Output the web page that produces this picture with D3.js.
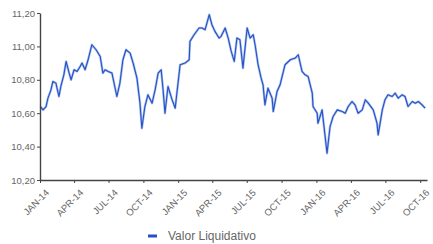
<!DOCTYPE html>
<html>
<head>
<meta charset="utf-8">
<script src="https://cdn.jsdelivr.net/npm/d3@7"></script>
<style>
  body { margin: 0; background: #fff; }
  svg { display: block; font-family: "Liberation Sans", Arial, sans-serif; }
</style>
</head>
<body>
<svg id="chart" width="433" height="244"></svg>
<script>
"use strict";

// Valor liquidativo
const dates = [
    "2014-01-02", "2014-01-09", "2014-01-17", "2014-01-22", "2014-01-30", "2014-02-04", "2014-02-12", "2014-02-20",
    "2014-02-25", "2014-03-05", "2014-03-11", "2014-03-19", "2014-03-24", "2014-04-01", "2014-04-09", "2014-04-17",
    "2014-04-22", "2014-04-30", "2014-05-08", "2014-05-18", "2014-05-29", "2014-06-09", "2014-06-16", "2014-06-22",
    "2014-06-30", "2014-07-10", "2014-07-23", "2014-07-31", "2014-08-08", "2014-08-16", "2014-08-27", "2014-09-04",
    "2014-09-14", "2014-09-22", "2014-09-27", "2014-10-05", "2014-10-13", "2014-10-24", "2014-11-01", "2014-11-09",
    "2014-11-17", "2014-11-22", "2014-11-27", "2014-12-05", "2014-12-16", "2014-12-24", "2014-12-29", "2015-01-06",
    "2015-01-19", "2015-01-30", "2015-02-01", "2015-02-12", "2015-02-25", "2015-03-05", "2015-03-13", "2015-03-24",
    "2015-03-31", "2015-04-08", "2015-04-19", "2015-04-24", "2015-05-05", "2015-05-13", "2015-05-21", "2015-05-29",
    "2015-06-05", "2015-06-13", "2015-06-21", "2015-07-02", "2015-07-10", "2015-07-18", "2015-07-23", "2015-07-31",
    "2015-08-08", "2015-08-13", "2015-08-18", "2015-08-26", "2015-09-06", "2015-09-09", "2015-09-19", "2015-09-27",
    "2015-10-10", "2015-10-24", "2015-11-06", "2015-11-14", "2015-11-24", "2015-12-02", "2015-12-10", "2015-12-21",
    "2015-12-23", "2016-01-03", "2016-01-05", "2016-01-16", "2016-01-21", "2016-01-29", "2016-02-06", "2016-02-14",
    "2016-02-25", "2016-03-09", "2016-03-17", "2016-03-25", "2016-04-04", "2016-04-12", "2016-04-20", "2016-05-01",
    "2016-05-09", "2016-05-17", "2016-05-30", "2016-06-09", "2016-06-12", "2016-06-23", "2016-06-30", "2016-07-08",
    "2016-07-19", "2016-07-27", "2016-08-04", "2016-08-14", "2016-08-22", "2016-08-30", "2016-09-10", "2016-09-18",
    "2016-09-26", "2016-10-06", "2016-10-14"
];
const values = [
    10.64, 10.62, 10.64, 10.69, 10.74, 10.79, 10.78, 10.70,
    10.76, 10.83, 10.91, 10.84, 10.80, 10.86, 10.85, 10.88,
    10.90, 10.86, 10.92, 11.01, 10.98, 10.94, 10.84, 10.86,
    10.85, 10.84, 10.70, 10.78, 10.92, 10.98, 10.96, 10.90,
    10.81, 10.66, 10.51, 10.64, 10.71, 10.66, 10.74, 10.84,
    10.86, 10.74, 10.60, 10.76, 10.68, 10.63, 10.73, 10.89,
    10.90, 10.92, 11.03, 11.07, 11.11, 11.11, 11.10, 11.19,
    11.13, 11.09, 11.05, 11.06, 11.11, 11.05, 10.97, 10.91,
    11.05, 11.04, 10.87, 11.11, 11.05, 11.07, 11.01, 10.89,
    10.81, 10.77, 10.65, 10.75, 10.69, 10.61, 10.73, 10.77,
    10.89, 10.92, 10.93, 10.95, 10.85, 10.83, 10.82, 10.72,
    10.64, 10.60, 10.54, 10.62, 10.52, 10.36, 10.52, 10.58,
    10.62, 10.61, 10.60, 10.64, 10.67, 10.65, 10.60, 10.62,
    10.68, 10.66, 10.62, 10.54, 10.47, 10.62, 10.68, 10.71,
    10.70, 10.72, 10.69, 10.71, 10.70, 10.64, 10.67, 10.66,
    10.67, 10.65, 10.63
];
const yTicks = [10.2, 10.4, 10.6, 10.8, 11.0, 11.2];
const seriesName = "Valor Liquidativo";

const parse = d3.timeParse("%Y-%m-%d");
const data = dates.map((d, i) => ({ date: parse(d), value: values[i] }));

const svg = d3.select("#chart");
const m = { left: 40, right: 427, top: 13, bottom: 180 };

const x = d3.scaleTime()
    .domain([parse("2014-01-01"), parse("2016-10-19")])
    .range([m.left, m.right]);
const y = d3.scaleLinear()
    .domain([10.2, 11.2])
    .range([m.bottom, m.top]);

const es = d3.formatLocale({ decimal: ",", thousands: ".", grouping: [3], currency: ["", "€"] });
const fmtY = es.format(".2f");
const fmtX = d => d3.timeFormat("%b-%y")(d).toUpperCase();

const line = d3.line().x(d => x(d.date)).y(d => y(d.value));

// line (soft halo + core)
svg.append("path")
    .datum(data)
    .attr("fill", "none")
    .attr("stroke", "#a9bfee")
    .attr("stroke-width", 2.4)
    .attr("stroke-linejoin", "round")
    .attr("d", line);
svg.append("path")
    .datum(data)
    .attr("fill", "none")
    .attr("stroke", "#2451c4")
    .attr("stroke-width", 1.1)
    .attr("stroke-linejoin", "round")
    .attr("d", line);

// y axis
const yAxis = svg.append("g")
    .attr("transform", `translate(${m.left},0)`)
    .call(d3.axisLeft(y).tickValues(yTicks).tickFormat(fmtY).tickSize(3).tickSizeOuter(0));
yAxis.select(".domain").attr("stroke", "#444").attr("stroke-width", 1.4);
yAxis.selectAll(".tick line").attr("stroke", "#444");
yAxis.selectAll("text")
    .attr("fill", "#666")
    .attr("font-size", "9.5px")
    .attr("x", -5);

// x axis
const xAxis = svg.append("g")
    .attr("transform", `translate(0,${m.bottom})`)
    .call(d3.axisBottom(x).ticks(d3.timeMonth.every(3)).tickFormat(fmtX).tickSize(3).tickSizeOuter(0));
xAxis.select(".domain").attr("stroke", "#444").attr("stroke-width", 1.4);
xAxis.selectAll(".tick line").attr("stroke", "#444");
xAxis.selectAll("text")
    .attr("fill", "#666")
    .attr("font-size", "9.5px")
    .attr("text-anchor", "end")
    .attr("y", 0)
    .attr("dy", "0.35em")
    .attr("transform", "translate(7,11) rotate(-45)");

// legend
const legend = svg.append("g").attr("transform", "translate(148,236)");
legend.append("rect")
    .attr("x", 0).attr("y", -1.5)
    .attr("width", 9).attr("height", 3)
    .attr("fill", "#2451c4");
legend.append("text")
    .attr("x", 20).attr("y", 4)
    .attr("fill", "#666")
    .attr("font-size", "12px")
    .text(seriesName);
</script>
</body>
</html>
